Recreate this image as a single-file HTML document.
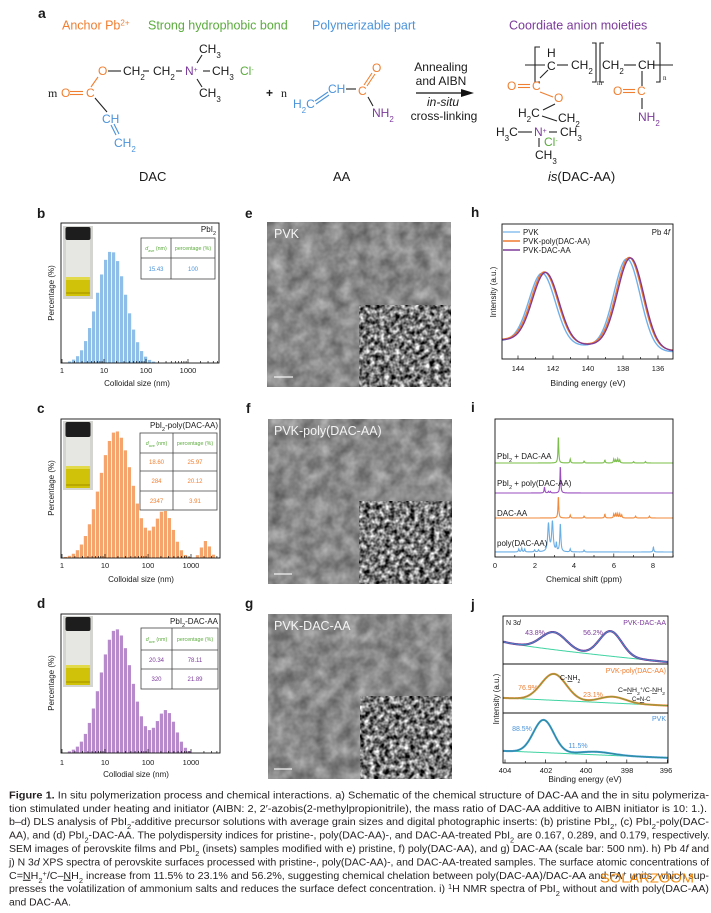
<!DOCTYPE html>
<html><head><meta charset="utf-8">
<style>html,body{margin:0;padding:0;background:#fff;}svg{display:block;}</style>
</head><body>
<svg id="fig" xmlns="http://www.w3.org/2000/svg" width="711" height="913" viewBox="0 0 711 913" font-family="'Liberation Sans', Arial, sans-serif" fill="#1a1a1a">
<defs>
  <filter id="semA" x="0%" y="0%" width="100%" height="100%" color-interpolation-filters="sRGB">
    <feTurbulence type="fractalNoise" baseFrequency="0.07" numOctaves="3" seed="4" result="t"/>
    <feColorMatrix in="t" type="matrix" values="0.45 0 0 0 0.31  0.45 0 0 0 0.31  0.45 0 0 0 0.31  0 0 0 0 1"/>
  </filter>
  <filter id="semB" x="0%" y="0%" width="100%" height="100%" color-interpolation-filters="sRGB">
    <feTurbulence type="fractalNoise" baseFrequency="0.2" numOctaves="2" seed="9" result="t"/>
    <feColorMatrix in="t" type="matrix" values="1.7 0 0 0 -0.38  1.7 0 0 0 -0.38  1.7 0 0 0 -0.38  0 0 0 0 1"/>
  </filter>
  <clipPath id="cb"><rect x="61" y="223" width="158" height="140"/></clipPath>
  <clipPath id="cc"><rect x="61" y="419" width="159" height="139"/></clipPath>
  <clipPath id="cd"><rect x="61" y="614" width="159" height="139"/></clipPath>
  <clipPath id="ch"><rect x="502" y="224" width="171" height="135"/></clipPath>
  <clipPath id="ci"><rect x="495" y="419" width="178" height="138"/></clipPath>
  <clipPath id="cj"><rect x="503" y="616" width="165" height="147"/></clipPath>
</defs>

<!-- ================= Panel a ================= -->
<text x="38" y="18" font-size="14" font-weight="bold">a</text>
<text x="62" y="29.5" font-size="12.5" fill="#f07f32">Anchor Pb<tspan font-size="8" baseline-shift="super">2+</tspan></text>
<text x="148" y="29.5" font-size="12.5" fill="#5aab3c">Strong hydrophobic bond</text>
<text x="312" y="29.5" font-size="12.5" fill="#4b93da">Polymerizable part</text>
<text x="509" y="29.5" font-size="12.5" fill="#7c3a9b">Coordiate anion moieties</text>

<g font-size="12" stroke-width="1.1">
  <!-- DAC -->
  <text x="199" y="53">CH<tspan font-size="8" baseline-shift="sub">3</tspan></text>
  <line x1="197" y1="63" x2="202" y2="55" stroke="#222"/>
  <text x="98" y="75" fill="#f07f32">O</text>
  <line x1="108" y1="71" x2="121" y2="71" stroke="#222"/>
  <text x="123" y="75">CH<tspan font-size="8" baseline-shift="sub">2</tspan></text>
  <line x1="143" y1="71" x2="149" y2="71" stroke="#222"/>
  <text x="153" y="75">CH<tspan font-size="8" baseline-shift="sub">2</tspan></text>
  <line x1="176" y1="71" x2="182" y2="71" stroke="#222"/>
  <text x="185" y="75" fill="#7c3a9b">N<tspan font-size="7" baseline-shift="super">+</tspan></text>
  <line x1="203" y1="71" x2="210" y2="71" stroke="#222"/>
  <text x="212" y="75">CH<tspan font-size="8" baseline-shift="sub">3</tspan></text>
  <text x="240" y="75" fill="#5aab3c">Cl<tspan font-size="7" baseline-shift="super">-</tspan></text>
  <line x1="197" y1="79" x2="202" y2="87" stroke="#222"/>
  <text x="199" y="97">CH<tspan font-size="8" baseline-shift="sub">3</tspan></text>
  <text x="48" y="97" font-family="'Liberation Serif', serif">m</text>
  <text x="61" y="97" fill="#f07f32">O</text>
  <line x1="70" y1="91.5" x2="83" y2="91.5" stroke="#f07f32"/>
  <line x1="70" y1="94.5" x2="83" y2="94.5" stroke="#f07f32"/>
  <text x="86" y="97" fill="#f07f32">C</text>
  <line x1="91" y1="87" x2="98" y2="77" stroke="#f07f32"/>
  <line x1="95" y1="98" x2="107" y2="112" stroke="#222"/>
  <text x="102" y="123" fill="#4b93da">CH</text>
  <line x1="111" y1="125" x2="116" y2="135" stroke="#4b93da"/>
  <line x1="114" y1="124" x2="119" y2="134" stroke="#4b93da"/>
  <text x="114" y="147" fill="#4b93da">CH<tspan font-size="8" baseline-shift="sub">2</tspan></text>
  <text x="139" y="181" font-size="13">DAC</text>

  <!-- + n AA -->
  <text x="266" y="97" font-weight="bold">+</text>
  <text x="281" y="97" font-family="'Liberation Serif', serif">n</text>
  <text x="293" y="108" fill="#4b93da">H<tspan font-size="8" baseline-shift="sub">2</tspan>C</text>
  <line x1="315" y1="101" x2="328" y2="92" stroke="#4b93da"/>
  <line x1="316" y1="104" x2="329" y2="95" stroke="#4b93da"/>
  <text x="328" y="93" fill="#4b93da">CH</text>
  <line x1="346" y1="89" x2="356" y2="89" stroke="#222"/>
  <text x="358" y="95" fill="#f07f32">C</text>
  <line x1="364" y1="85" x2="372" y2="73" stroke="#f07f32"/>
  <line x1="367" y1="86" x2="375" y2="74" stroke="#f07f32"/>
  <text x="372" y="72" fill="#f07f32">O</text>
  <line x1="368" y1="97" x2="373" y2="106" stroke="#222"/>
  <text x="372" y="117" fill="#7c3a9b">NH<tspan font-size="8" baseline-shift="sub">2</tspan></text>
  <text x="333" y="181" font-size="13">AA</text>

  <!-- arrow -->
  <text x="441" y="71" text-anchor="middle">Annealing</text>
  <text x="441" y="85" text-anchor="middle">and AIBN</text>
  <line x1="416" y1="93" x2="464" y2="93" stroke="#111" stroke-width="1.3"/>
  <polygon points="461,89 474,93 461,97" fill="#111"/>
  <text x="443" y="106" text-anchor="middle" font-style="italic">in-situ</text>
  <text x="444" y="120" text-anchor="middle">cross-linking</text>

  <!-- polymer -->
  <line x1="525" y1="65" x2="545" y2="65" stroke="#222"/>
  <path d="M540,47 L535,47 L535,82 L540,82" fill="none" stroke="#222"/>
  <text x="547" y="57">H</text>
  <text x="547" y="70">C</text>
  <line x1="557" y1="65" x2="568" y2="65" stroke="#222"/>
  <text x="571" y="69">CH<tspan font-size="8" baseline-shift="sub">2</tspan></text>
  <path d="M592,43 L596,43 L596,82 L592,82" fill="none" stroke="#222"/>
  <text x="597" y="85" font-size="7" font-family="'Liberation Serif', serif">m</text>
  <path d="M604,43 L600,43 L600,82 L604,82" fill="none" stroke="#222"/>
  <text x="602" y="69">CH<tspan font-size="8" baseline-shift="sub">2</tspan></text>
  <line x1="624" y1="65" x2="636" y2="65" stroke="#222"/>
  <text x="638" y="69">CH</text>
  <line x1="653" y1="65" x2="673" y2="65" stroke="#222"/>
  <path d="M656,43 L660,43 L660,82 L656,82" fill="none" stroke="#222"/>
  <text x="663" y="80" font-size="7" font-family="'Liberation Serif', serif">n</text>
  <text x="507" y="90" fill="#f07f32">O</text>
  <line x1="518" y1="84.5" x2="530" y2="84.5" stroke="#f07f32"/>
  <line x1="518" y1="87.5" x2="530" y2="87.5" stroke="#f07f32"/>
  <text x="532" y="90" fill="#f07f32">C</text>
  <line x1="540" y1="78" x2="548" y2="70" stroke="#222"/>
  <line x1="540" y1="92" x2="553" y2="97" stroke="#f07f32"/>
  <text x="554" y="102" fill="#f07f32">O</text>
  <line x1="555" y1="104" x2="543" y2="110" stroke="#222"/>
  <text x="518" y="117">H<tspan font-size="8" baseline-shift="sub">2</tspan>C</text>
  <line x1="542" y1="116" x2="557" y2="121" stroke="#222"/>
  <text x="558" y="122">CH<tspan font-size="8" baseline-shift="sub">2</tspan></text>
  <text x="496" y="136">H<tspan font-size="8" baseline-shift="sub">3</tspan>C</text>
  <line x1="518" y1="132" x2="532" y2="132" stroke="#222"/>
  <text x="534" y="136" fill="#7c3a9b">N<tspan font-size="7" baseline-shift="super">+</tspan></text>
  <line x1="549" y1="132" x2="557" y2="132" stroke="#222"/>
  <text x="560" y="136">CH<tspan font-size="8" baseline-shift="sub">3</tspan></text>
  <line x1="539" y1="138" x2="539" y2="147" stroke="#222"/>
  <text x="544" y="146" fill="#5aab3c">Cl<tspan font-size="7" baseline-shift="super">-</tspan></text>
  <text x="535" y="159">CH<tspan font-size="8" baseline-shift="sub">3</tspan></text>
  <text x="613" y="95" fill="#f07f32">O</text>
  <line x1="623" y1="89.5" x2="635" y2="89.5" stroke="#f07f32"/>
  <line x1="623" y1="92.5" x2="635" y2="92.5" stroke="#f07f32"/>
  <text x="637" y="95" fill="#f07f32">C</text>
  <line x1="642" y1="71" x2="642" y2="86" stroke="#222"/>
  <line x1="642" y1="98" x2="642" y2="109" stroke="#222"/>
  <text x="638" y="121" fill="#7c3a9b">NH<tspan font-size="8" baseline-shift="sub">2</tspan></text>
  <text x="548" y="181" font-size="13"><tspan font-style="italic">is</tspan>(DAC-AA)</text>
</g>

<!-- ================= Panel letters ================= -->
<g font-size="13.5" font-weight="bold">
  <text x="37" y="218">b</text>
  <text x="37" y="413">c</text>
  <text x="37" y="608">d</text>
  <text x="245" y="218">e</text>
  <text x="246" y="413">f</text>
  <text x="245" y="608">g</text>
  <text x="471" y="217">h</text>
  <text x="471" y="412">i</text>
  <text x="471" y="609">j</text>
</g>

<!-- ================= Histograms ================= -->
<g id="hb" clip-path="url(#cb)"></g>
<g id="hc" clip-path="url(#cc)"></g>
<g id="hd" clip-path="url(#cd)"></g>
<g id="tb"></g><g id="tc"></g><g id="td"></g>
<g id="vials"></g>

<rect x="61" y="223" width="158" height="140" fill="none" stroke="#111" stroke-width="0.9"/>
<rect x="61" y="419" width="159" height="139" fill="none" stroke="#111" stroke-width="0.9"/>
<rect x="61" y="614" width="159" height="139" fill="none" stroke="#111" stroke-width="0.9"/>

<g font-size="7.5" text-anchor="middle">
  <text x="62" y="373">1</text><text x="104" y="373">10</text><text x="146" y="373">100</text><text x="188" y="373">1000</text>
  <text x="62" y="568">1</text><text x="105" y="568">10</text><text x="148" y="568">100</text><text x="191" y="568">1000</text>
  <text x="62" y="765">1</text><text x="105" y="765">10</text><text x="148" y="765">100</text><text x="191" y="765">1000</text>
</g>
<g font-size="8" text-anchor="middle">
  <text x="137" y="386">Colloidal size (nm)</text>
  <text x="141" y="582">Colloidal size (nm)</text>
  <text x="136" y="777">Collodial size (nm)</text>
  <text transform="translate(54,293) rotate(-90)">Percentage (%)</text>
  <text transform="translate(54,488) rotate(-90)">Percentage (%)</text>
  <text transform="translate(54,683) rotate(-90)">Percentage (%)</text>
</g>
<g font-size="8" text-anchor="end">
  <text x="216" y="232">PbI<tspan font-size="5.5" baseline-shift="sub">2</tspan></text>
  <text x="218" y="428">PbI<tspan font-size="5.5" baseline-shift="sub">2</tspan>-poly(DAC-AA)</text>
  <text x="218" y="624">PbI<tspan font-size="5.5" baseline-shift="sub">2</tspan>-DAC-AA</text>
</g>

<!-- tables -->
<g stroke="#444" stroke-width="0.8">
  <rect x="141" y="238" width="74" height="41" fill="#fff"/>
  <line x1="171" y1="238" x2="171" y2="279"/><line x1="141" y1="258" x2="215" y2="258"/>
  <rect x="140" y="433" width="77" height="77" fill="#fff"/>
  <line x1="173" y1="433" x2="173" y2="510"/><line x1="140" y1="453" x2="217" y2="453"/>
  <line x1="140" y1="471" x2="217" y2="471"/><line x1="140" y1="491" x2="217" y2="491"/>
  <rect x="141" y="628" width="77" height="61" fill="#fff"/>
  <line x1="172" y1="628" x2="172" y2="689"/><line x1="141" y1="650" x2="218" y2="650"/>
  <line x1="141" y1="669" x2="218" y2="669"/>
</g>
<g font-size="5.3" text-anchor="middle" fill="#5aab3c">
  <text x="156" y="250"><tspan font-style="italic">d</tspan><tspan font-size="3.8" baseline-shift="sub">ave</tspan> (nm)</text>
  <text x="193" y="250">percentage (%)</text>
  <text x="156.5" y="445"><tspan font-style="italic">d</tspan><tspan font-size="3.8" baseline-shift="sub">ave</tspan> (nm)</text>
  <text x="195" y="445">percentage (%)</text>
  <text x="156.5" y="641"><tspan font-style="italic">d</tspan><tspan font-size="3.8" baseline-shift="sub">ave</tspan> (nm)</text>
  <text x="195" y="641">percentage (%)</text>
</g>
<g font-size="6" text-anchor="middle">
  <g fill="#4b93da"><text x="156" y="271">15.43</text><text x="193" y="271">100</text></g>
  <g fill="#f07f32"><text x="156.5" y="464">18.60</text><text x="195" y="464">25.97</text>
    <text x="156.5" y="483">284</text><text x="195" y="483">20.12</text>
    <text x="156.5" y="503">2347</text><text x="195" y="503">3.91</text></g>
  <g fill="#7c3a9b"><text x="156.5" y="662">20.34</text><text x="195" y="662">78.11</text>
    <text x="156.5" y="681">320</text><text x="195" y="681">21.89</text></g>
</g>

<!-- ================= SEM images ================= -->
<g>
  <rect x="267" y="222" width="184" height="165" filter="url(#semA)"/>
  <rect x="359" y="305" width="92" height="82" filter="url(#semB)"/>
  <rect x="268" y="419" width="184" height="165" filter="url(#semA)"/>
  <rect x="359" y="501" width="93" height="83" filter="url(#semB)"/>
  <rect x="268" y="614" width="184" height="165" filter="url(#semA)"/>
  <rect x="360" y="696" width="92" height="83" filter="url(#semB)"/>
  <g stroke="#f2f2f2" stroke-width="1.2">
    <line x1="274" y1="377" x2="293" y2="377"/>
    <line x1="274" y1="574" x2="292" y2="574"/>
    <line x1="274" y1="769" x2="292" y2="769"/>
  </g>
  <g font-size="12.5" fill="#f4f4f4">
    <text x="274" y="238">PVK</text>
    <text x="274" y="435">PVK-poly(DAC-AA)</text>
    <text x="274" y="630">PVK-DAC-AA</text>
  </g>
</g>

<!-- ================= Panel h ================= -->
<g id="hh" clip-path="url(#ch)"></g>
<rect x="502" y="224" width="171" height="135" fill="none" stroke="#111" stroke-width="0.9"/>
<g id="hticks"></g>
<g font-size="7.5" text-anchor="middle">
  <text x="518" y="371">144</text><text x="553" y="371">142</text><text x="588" y="371">140</text><text x="623" y="371">138</text><text x="658" y="371">136</text>
</g>
<text x="588" y="386" font-size="8.5" text-anchor="middle">Binding energy (eV)</text>
<text transform="translate(496,292) rotate(-90)" font-size="8" text-anchor="middle">Intensity (a.u.)</text>
<g stroke-width="1.5">
  <line x1="503" y1="232" x2="520" y2="232" stroke="#8cc0ee"/>
  <line x1="503" y1="241" x2="520" y2="241" stroke="#f07a30"/>
  <line x1="503" y1="250" x2="520" y2="250" stroke="#7d3c98"/>
</g>
<g font-size="7.8">
  <text x="523" y="235">PVK</text>
  <text x="523" y="244">PVK-poly(DAC-AA)</text>
  <text x="523" y="253">PVK-DAC-AA</text>
  <text x="670" y="235" text-anchor="end">Pb 4<tspan font-style="italic">f</tspan></text>
</g>

<!-- ================= Panel i ================= -->
<g id="ii" clip-path="url(#ci)"></g>
<rect x="495" y="419" width="178" height="138" fill="none" stroke="#111" stroke-width="0.9"/>
<g id="iticks"></g>
<g font-size="7.5" text-anchor="middle">
  <text x="495" y="568">0</text><text x="535" y="568">2</text><text x="574" y="568">4</text><text x="614" y="568">6</text><text x="653" y="568">8</text>
</g>
<text x="584" y="582" font-size="8.3" text-anchor="middle">Chemical shift (ppm)</text>
<g font-size="8">
  <text x="497" y="459">PbI<tspan font-size="5.5" baseline-shift="sub">2</tspan> + DAC-AA</text>
  <text x="497" y="486">PbI<tspan font-size="5.5" baseline-shift="sub">2</tspan> + poly(DAC-AA)</text>
  <text x="497" y="516">DAC-AA</text>
  <text x="497" y="546">poly(DAC-AA)</text>
</g>

<!-- ================= Panel j ================= -->
<g id="jj" clip-path="url(#cj)"></g>
<rect x="503" y="616" width="165" height="147" fill="none" stroke="#111" stroke-width="0.9"/>
<line x1="503" y1="664" x2="668" y2="664" stroke="#111" stroke-width="0.9"/>
<line x1="503" y1="713" x2="668" y2="713" stroke="#111" stroke-width="0.9"/>
<g id="jticks"></g>
<g font-size="7.5" text-anchor="middle">
  <text x="505" y="773">404</text><text x="546" y="773">402</text><text x="586" y="773">400</text><text x="627" y="773">398</text><text x="666" y="773">396</text>
</g>
<text x="585" y="782" font-size="8.3" text-anchor="middle">Binding energy (eV)</text>
<text transform="translate(499,699) rotate(-90)" font-size="8" text-anchor="middle">Intensity (a.u.)</text>
<g font-size="7">
  <text x="506" y="625">N 3<tspan font-style="italic">d</tspan></text>
  <text x="666" y="625" text-anchor="end" fill="#7c3a9b">PVK-DAC-AA</text>
  <text x="535" y="635" text-anchor="middle" fill="#7c3a9b">43.8%</text>
  <text x="593" y="635" text-anchor="middle" fill="#7c3a9b">56.2%</text>
  <text x="666" y="673" text-anchor="end" fill="#f07f32">PVK-poly(DAC-AA)</text>
  <text x="560" y="680">C-<tspan text-decoration="underline">N</tspan>H<tspan font-size="5" baseline-shift="sub">2</tspan></text>
  <text x="528" y="690" text-anchor="middle" fill="#f07f32">76.9%</text>
  <text x="593" y="697" text-anchor="middle" fill="#f07f32">23.1%</text>
  <text x="618" y="692" font-size="6" textLength="47" lengthAdjust="spacingAndGlyphs">C=<tspan text-decoration="underline">N</tspan>H<tspan font-size="4.5" baseline-shift="sub">2</tspan><tspan font-size="4.5" baseline-shift="super">+</tspan>/C-<tspan text-decoration="underline">N</tspan>H<tspan font-size="4.5" baseline-shift="sub">2</tspan></text>
  <text x="632" y="701" font-size="6">C=<tspan text-decoration="underline">N</tspan>-C</text>
  <text x="666" y="721" text-anchor="end" fill="#4b93da">PVK</text>
  <text x="522" y="731" text-anchor="middle" fill="#4b93da">88.5%</text>
  <text x="578" y="748" text-anchor="middle" fill="#4b93da">11.5%</text>
</g>

<!-- ================= Caption ================= -->
<g font-size="10" fill="#231f20">
  <text x="9" y="798.5" textLength="700" lengthAdjust="spacingAndGlyphs"><tspan font-weight="bold">Figure 1.</tspan> In situ polymerization process and chemical interactions. a) Schematic of the chemical structure of DAC-AA and the in situ polymeriza-</text>
  <text x="9" y="811.8" textLength="698" lengthAdjust="spacingAndGlyphs">tion stimulated under heating and initiator (AIBN: 2, 2′-azobis(2-methylpropionitrile), the mass ratio of DAC-AA additive to AIBN initiator is 10: 1.).</text>
  <text x="9" y="825.2" textLength="700" lengthAdjust="spacingAndGlyphs">b–d) DLS analysis of PbI<tspan font-size="7" baseline-shift="sub">2</tspan>-additive precursor solutions with average grain sizes and digital photographic inserts: (b) pristine PbI<tspan font-size="7" baseline-shift="sub">2</tspan>, (c) PbI<tspan font-size="7" baseline-shift="sub">2</tspan>-poly(DAC-</text>
  <text x="9" y="838.6" textLength="701" lengthAdjust="spacingAndGlyphs">AA), and (d) PbI<tspan font-size="7" baseline-shift="sub">2</tspan>-DAC-AA. The polydispersity indices for pristine-, poly(DAC-AA)-, and DAC-AA-treated PbI<tspan font-size="7" baseline-shift="sub">2</tspan> are 0.167, 0.289, and 0.179, respectively.</text>
  <text x="9" y="852" textLength="700" lengthAdjust="spacingAndGlyphs">SEM images of perovskite films and PbI<tspan font-size="7" baseline-shift="sub">2</tspan> (insets) samples modified with e) pristine, f) poly(DAC-AA), and g) DAC-AA (scale bar: 500 nm). h) Pb 4<tspan font-style="italic">f</tspan> and</text>
  <text x="9" y="865.4" textLength="700" lengthAdjust="spacingAndGlyphs">j) N 3<tspan font-style="italic">d</tspan> XPS spectra of perovskite surfaces processed with pristine-, poly(DAC-AA)-, and DAC-AA-treated samples. The surface atomic concentrations of</text>
  <text x="9" y="878.8" textLength="700" lengthAdjust="spacingAndGlyphs">C=<tspan text-decoration="underline">N</tspan>H<tspan font-size="7" baseline-shift="sub">2</tspan><tspan font-size="7" baseline-shift="super">+</tspan>/C–<tspan text-decoration="underline">N</tspan>H<tspan font-size="7" baseline-shift="sub">2</tspan> increase from 11.5% to 23.1% and 56.2%, suggesting chemical chelation between poly(DAC-AA)/DAC-AA and FA<tspan font-size="7" baseline-shift="super">+</tspan> units, which sup-</text>
  <text x="9" y="892.2" textLength="700" lengthAdjust="spacingAndGlyphs">presses the volatilization of ammonium salts and reduces the surface defect concentration. i) <tspan font-size="7" baseline-shift="super">1</tspan>H NMR spectra of PbI<tspan font-size="7" baseline-shift="sub">2</tspan> without and with poly(DAC-AA)</text>
  <text x="9" y="905.6" textLength="62" lengthAdjust="spacingAndGlyphs">and DAC-AA.</text>
</g>
<text x="600" y="882.5" font-size="12.5" fill="#f08a10" textLength="94" lengthAdjust="spacingAndGlyphs">SOLARZOOM</text>
</svg>

<script>
(function(){
const NS="http://www.w3.org/2000/svg";
function el(tag,attrs,parent){const e=document.createElementNS(NS,tag);for(const k in attrs)e.setAttribute(k,attrs[k]);parent.appendChild(e);return e;}
const G=(x,c,s)=>Math.exp(-(x-c)*(x-c)/(2*s*s));
const S=(x,c,s)=>1/(1+Math.exp(-(x-c)/s));
function path(pts){return 'M'+pts.map(p=>p[0].toFixed(2)+','+p[1].toFixed(2)).join('L');}

/* histograms */
function hist(id,x0,dec,baseY,xl,xr,comps,color){
  const g=document.getElementById(id);
  const pitch=4.0, step=pitch/dec;
  for(let lx=-0.2;lx<4.2;lx+=step){
    const xc=x0+lx*dec;
    if(xc-pitch/2<xl||xc+pitch/2>xr)continue;
    let h=0;comps.forEach(c=>{h+=c[1]*G(lx,c[0],c[2]);});
    if(h<0.9)continue;
    el('rect',{x:(xc-pitch/2+0.4).toFixed(2),y:(baseY-h).toFixed(2),width:(pitch-0.8).toFixed(2),height:h.toFixed(2),fill:color},g);
  }
  const t=document.getElementById('t'+id.slice(1));
  for(let d=0;d<4;d++)for(let m=1;m<10;m++){
    const x=x0+dec*(d+Math.log10(m));
    if(x<xl+0.5||x>xr-0.5)continue;
    el('line',{x1:x,y1:baseY,x2:x,y2:baseY-(m==1?4:2),stroke:'#111','stroke-width':0.7},t);
  }
}
hist('hb',62,42,363,61,219,[[1.176,112,0.34]],'#8fbfe8');
hist('hc',62,43,558,61,220,[[1.256,127,0.38],[2.38,46,0.21],[3.34,17,0.1]],'#f5a46c');
hist('hd',62,43,753,61,220,[[1.26,124,0.37],[2.42,42,0.22]],'#b68acb');

/* vials */
function vial(x,y,w,h,capB,liqT,liqB){
  const g=document.getElementById('vials');
  el('rect',{x:x,y:y,width:w,height:h,fill:'#d4d4d0'},g);
  el('rect',{x:x+3,y:capB,width:w-6,height:liqB-capB,fill:'#e6e6e2'},g);
  el('rect',{x:x+2.5,y:y+1,width:w-5,height:capB-y-1,rx:2,fill:'#1d1d1d'},g);
  el('rect',{x:x+3,y:liqT,width:w-6,height:liqB-liqT,fill:'#d0c208'},g);
  el('rect',{x:x+3,y:liqT,width:w-6,height:3,fill:'#e2da4a'},g);
  el('rect',{x:x+3,y:liqB-4,width:w-6,height:2,fill:'#b8a800'},g);
}
vial(63,226,30,73,240,277,296);
vial(63,421,30,69,437,466,488);
vial(63,616,30,71,631,665,685);

/* panel h */
const hh=document.getElementById('hh');
function hcurve(c1,c2,col,dy){
  const pts=[];
  for(let E=145.2;E>=135;E-=0.04){
    const y=351+dy-6*S(E,c2,0.35)-5*S(E,c1,0.35)-70*G(E,c1,0.75)-90*G(E,c2,0.75);
    pts.push([518+(144-E)*17.5,y]);
  }
  el('path',{d:path(pts),fill:'none',stroke:col,'stroke-width':1.4},hh);
}
hcurve(142.6,137.75,'#6fb0ea',0.8);
hcurve(142.47,137.62,'#f07a30',-0.5);
hcurve(142.4,137.55,'#7d3c98',0);
const ht=document.getElementById('hticks');
for(let E=136;E<=144;E+=1){const x=518+(144-E)*17.5;el('line',{x1:x,y1:359,x2:x,y2:359-(E%2==0?3.5:2),stroke:'#111','stroke-width':0.7},ht);}

/* panel i */
const ii=document.getElementById('ii');
function spec(base,peaks,col){
  const pts=[];
  for(let x=494;x<=674;x+=0.25){
    let y=base;
    peaks.forEach(p=>{const xp=495+p[0]*19.8;const w=p[2]||0.45;y-=p[1]/(1+Math.pow((x-xp)/w,2));});
    pts.push([x,y]);
  }
  el('path',{d:path(pts),fill:'none',stroke:col,'stroke-width':1.1},ii);
}
spec(463,[[3.2,27],[3.8,4],[4.5,2],[5.55,3],[6.0,4],[6.1,3],[6.2,4],[6.3,3],[7.0,1.5],[7.6,1.5]],'#7bbf4a');
spec(493,[[3.3,27],[2.5,6],[2.7,1.5],[2.8,1.5]],'#9a4fbf');
spec(518,[[3.2,22],[3.8,3],[4.5,2],[5.55,4],[6.0,4],[6.1,5],[6.2,4],[6.3,4],[6.4,3],[7.1,2],[7.8,2]],'#f28a3c');
spec(552,[[2.7,28,0.9],[2.9,30,0.9],[3.3,28,0.6],[3.1,8],[8.0,5],[1.2,3],[1.35,4],[1.5,3],[2.0,2],[2.2,2],[3.8,3],[4.5,2]],'#6aaee6');
const it=document.getElementById('iticks');
for(let p=0;p<=9;p++){const x=495+p*19.8;el('line',{x1:x,y1:557,x2:x,y2:557-(p%2==0?3.5:2),stroke:'#111','stroke-width':0.7},it);}

/* panel j */
const jj=document.getElementById('jj');
function jc(base,peaks){
  const pts=[];
  for(let E=404.2;E>=395.8;E-=0.04){
    let y=base(E);peaks.forEach(p=>{y-=p[1]*G(E,p[0],p[2]);});
    pts.push([505+(404-E)*20.3,y]);
  }
  return path(pts);
}
const bT=E=>642+20*Math.pow(Math.max(0,(404-E)/8),0.8);
const bM=E=>698+(404-E)*0.95;
const bB=E=>751+(404-E)*0.85;
const green='#3fd3a2';
el('path',{d:jc(bT,[]),fill:'none',stroke:green,'stroke-width':1},jj);
el('path',{d:jc(bT,[[401.6,17.5,0.62],[398.8,25,0.55]]),fill:'none',stroke:'#7b3a96','stroke-width':2.2},jj);
el('path',{d:jc(bT,[[401.6,17.5,0.62],[398.8,25,0.55]]),fill:'none',stroke:'#3d8fc8','stroke-width':0.9},jj);
el('path',{d:jc(bM,[]),fill:'none',stroke:green,'stroke-width':1},jj);
el('path',{d:jc(bM,[[401.6,26.4,0.62],[398.7,6.3,0.65]]),fill:'none',stroke:'#f08a40','stroke-width':2.1},jj);
el('path',{d:jc(bM,[[401.6,26.4,0.62],[398.7,6.3,0.65]]),fill:'none',stroke:'#7a9a3a','stroke-width':0.9},jj);
el('path',{d:jc(bB,[]),fill:'none',stroke:green,'stroke-width':1},jj);
el('path',{d:jc(bB,[[402.1,32.7,0.5],[399.5,3,0.8]]),fill:'none',stroke:'#4a9ee0','stroke-width':2.1},jj);
el('path',{d:jc(bB,[[402.1,32.7,0.5],[399.5,3,0.8]]),fill:'none',stroke:'#2a8a8a','stroke-width':0.9},jj);
const jt=document.getElementById('jticks');
for(let E=396;E<=404;E++){const x=505+(404-E)*20.3;el('line',{x1:x,y1:763,x2:x,y2:763-(E%2==0?3.5:2),stroke:'#111','stroke-width':0.7},jt);}
})();
</script>
</body></html>
